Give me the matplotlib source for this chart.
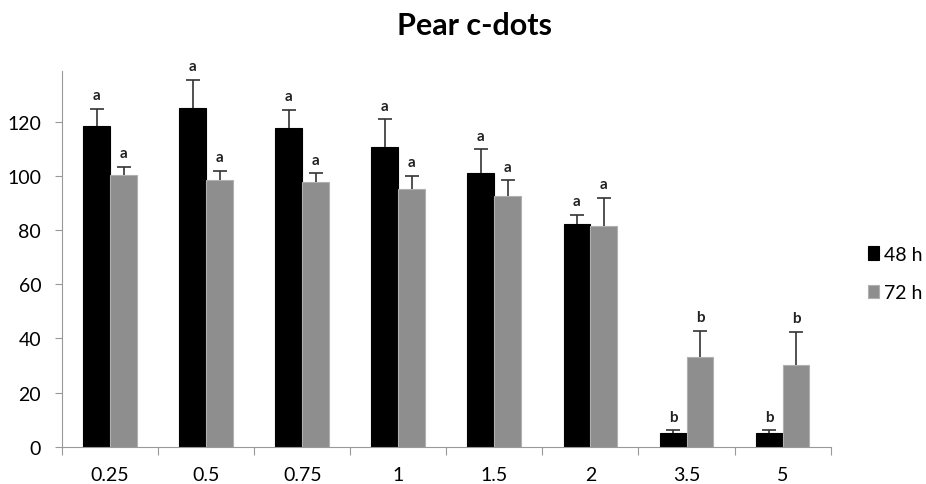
import numpy as np
import matplotlib
matplotlib.use('Agg')
import matplotlib.pyplot as plt

categories = ["0.25", "0.5", "0.75", "1", "1.5", "2", "3.5", "5"]
vals_48 = [118.7, 125.2, 117.8, 110.9, 101.3, 82.2, 5.1, 5.1]
err_48 = [6.3, 10.5, 6.7, 10.1, 8.6, 3.6, 0.9, 0.9]
vals_72 = [100.6, 98.7, 98.0, 95.3, 92.7, 81.5, 33.0, 30.1]
err_72 = [2.8, 3.2, 3.1, 4.7, 5.8, 10.4, 9.7, 12.4]
letters_48 = ["a", "a", "a", "a", "a", "a", "b", "b"]
letters_72 = ["a", "a", "a", "a", "a", "a", "b", "b"]

plt.rcParams['font.family'] = ['Lato', 'DejaVu Sans']

fig = plt.figure(figsize=(9.26, 4.85), dpi=100)
ax = fig.add_axes([0.067, 0.077, 0.83, 0.775])

x = np.arange(len(categories))
w = 0.28
ax.bar(x - w / 2, vals_48, w, color="black", edgecolor="black", linewidth=0.8,
       label="48 h", zorder=2)
ax.bar(x + w / 2, vals_72, w, color="#8e8e8e", edgecolor="#b0b0b0", linewidth=0.8,
       label="72 h", zorder=2)

# upper error bars only (no cap at the bar top)
for xs, vals, errs in [(x - w / 2, vals_48, err_48), (x + w / 2, vals_72, err_72)]:
    eb = ax.errorbar(xs, vals, yerr=[np.zeros(len(x)), errs], fmt="none",
                     ecolor="#333333", elinewidth=1.2, capsize=5, capthick=1.2,
                     zorder=3)
    eb[1][0].set_visible(False)

for i in range(len(x)):
    ax.text(x[i] - w / 2, vals_48[i] + err_48[i] + 2.5, letters_48[i],
            ha="center", va="bottom", fontsize=11, fontweight="bold", color="#222222")
    ax.text(x[i] + w / 2, vals_72[i] + err_72[i] + 2.5, letters_72[i],
            ha="center", va="bottom", fontsize=11, fontweight="bold", color="#222222")

ax.set_xlim(-0.5, len(x) - 0.5)
ax.set_ylim(0, 139)
ax.set_yticks(range(0, 121, 20))
ax.set_xticks(np.arange(-0.5, len(x), 1.0), minor=False)
ax.set_xticklabels([])
ax.set_xticks(x, minor=True)
ax.set_xticklabels(categories, minor=True)
ax.tick_params(axis="x", which="minor", length=0, pad=14, labelsize=14)
ax.tick_params(axis="x", which="major", length=6, color="#999999", direction="out")
ax.tick_params(axis="y", length=5, color="#999999", labelsize=14, pad=10)
for s in ["top", "right"]:
    ax.spines[s].set_visible(False)
for s in ["left", "bottom"]:
    ax.spines[s].set_color("#999999")

fig.suptitle("Pear c-dots", x=0.512, y=0.975, fontsize=22, fontweight="bold")
fig.legend(loc="center left", bbox_to_anchor=(0.937, 0.434), frameon=False,
           fontsize=14, handlelength=0.6, handleheight=0.7, handletextpad=0.25,
           labelspacing=1.1, borderpad=0, borderaxespad=0)

fig.savefig("out.png", dpi=100)
